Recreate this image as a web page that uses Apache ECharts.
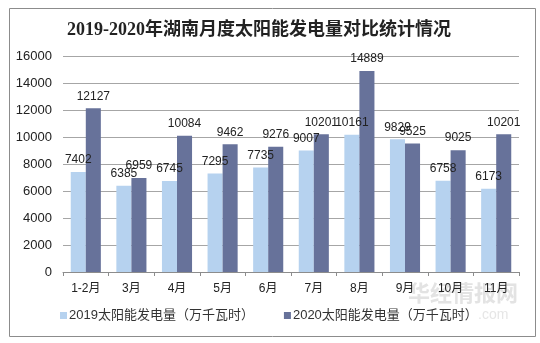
<!DOCTYPE html>
<html>
<head>
<meta charset="utf-8">
<script src="https://cdn.jsdelivr.net/npm/echarts@6/dist/echarts.min.js"></script>
<style>html,body{margin:0;padding:0;background:#fff;}#c{width:540px;height:343px;}</style>
</head>
<body>
<div id="c"></div>
<script>
const categories = ['1-2月','3月','4月','5月','6月','7月','8月','9月','10月','11月'];
const series2019 = [7402, 6385, 6745, 7295, 7735, 9007, 10161, 9829, 6758, 6173];
const series2020 = [12127, 6959, 10084, 9462, 9276, 10201, 14889, 9525, 9025, 10201];
const seriesNames = ['2019太阳能发电量（万千瓦时）', '2020太阳能发电量（万千瓦时）'];
const titleText = '2019-2020年湖南月度太阳能发电量对比统计情况';

const chart = echarts.init(document.getElementById('c'), null, {renderer: 'canvas'});
const labelStyle = {show: true, position: 'top', fontSize: 12, color: '#222', fontFamily: "'Liberation Sans', Arial, sans-serif", distance: 6};
chart.setOption({
  animation: false,
  backgroundColor: '#fff',
  graphic: [
    {type: 'rect', left: 7, top: 6, shape: {x: 0, y: 0, width: 526, height: 328}, style: {fill: 'none', stroke: '#8c8c8c', lineWidth: 1}, z: -1, silent: true},
    {type: 'text', left: 408, top: 282, style: {text: '华经情报网', fill: '#e3e3e3', font: "bold 22px 'Noto Sans CJK SC'"}, z: -1, silent: true},
    {type: 'text', left: 478, top: 308, style: {text: '.com', fill: '#e6e6e6', font: "14px 'Liberation Sans'"}, z: -1, silent: true}
  ],
  title: {
    text: titleText,
    left: 62,
    top: 16,
    textStyle: {fontSize: 18, fontWeight: 'bold', color: '#222', fontFamily: "'Liberation Serif', 'Noto Sans CJK SC', serif"}
  },
  legend: {
    bottom: 16,
    left: 55,
    itemWidth: 7,
    itemHeight: 7,
    itemGap: 30,
    icon: 'rect',
    textStyle: {fontSize: 13, color: '#333', fontFamily: "'Liberation Sans', 'Noto Sans CJK SC', sans-serif", padding: [0,0,0,-3]},
    data: seriesNames
  },
  grid: {left: 63, right: 21, top: 56, bottom: 71, containLabel: false},
  xAxis: {
    type: 'category',
    data: categories,
    axisLine: {lineStyle: {color: '#8c8c8c'}},
    axisTick: {show: true, length: 4, lineStyle: {color: '#8c8c8c'}},
    axisLabel: {fontSize: 12, color: '#222', margin: 11, fontFamily: "'Liberation Sans', 'Noto Sans CJK SC', sans-serif"}
  },
  yAxis: {
    type: 'value',
    min: 0,
    max: 16000,
    interval: 2000,
    axisLine: {show: false},
    axisTick: {show: false},
    axisLabel: {fontSize: 13, color: '#222', margin: 11, fontFamily: "'Liberation Sans', Arial, sans-serif", formatter: function (v) { return String(v); }},
    splitLine: {lineStyle: {color: '#a6a6a6'}}
  },
  series: [
    {name: seriesNames[0], type: 'bar', data: series2019, barGap: '0%', barCategoryGap: '34%', itemStyle: {color: '#b6d2ef'}, label: labelStyle},
    {name: seriesNames[1], type: 'bar', data: series2020, barGap: '0%', barCategoryGap: '34%', itemStyle: {color: '#67729a'}, label: labelStyle}
  ]
});
</script>
</body>
</html>
